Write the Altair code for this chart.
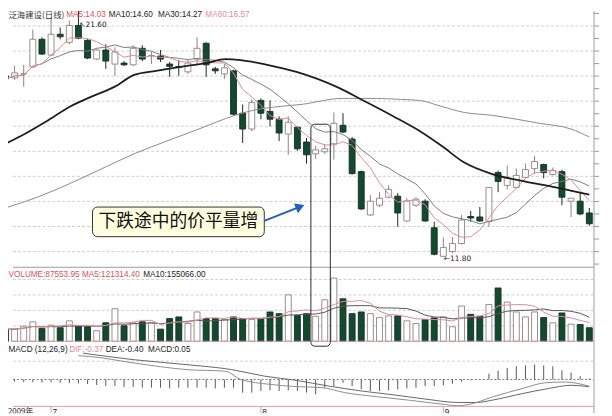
import altair as alt
import pandas as pd

# ---------------- data ----------------
opens = [19.01, 18.93, 19.09, 19.37, 20.47, 19.84, 20.67, 20.35, 21.02, 20.43,
         19.68, 20.04, 19.48, 19.52, 19.45, 20.11, 19.82, 19.80, 19.48, 19.38,
         19.17, 19.68, 20.31, 19.29, 19.09, 19.21, 17.52, 16.89, 18.03, 17.59,
         17.28, 16.69, 16.96, 16.37, 15.90, 15.98, 16.30, 17.04, 16.49, 15.19,
         13.46, 13.85, 14.17, 14.21, 13.22, 13.85, 14.01, 12.95, 11.81, 12.00,
         12.32, 13.40, 13.38, 13.19, 15.15, 14.64, 14.56, 14.96, 15.31, 15.47,
         15.07, 15.19, 14.01, 14.01, 13.54]
highs = [19.17, 19.41, 19.45, 20.86, 20.55, 21.34, 20.94, 21.22, 21.60, 20.47,
         20.08, 20.27, 20.15, 19.60, 20.23, 20.23, 19.96, 20.04, 19.56, 19.64,
         19.64, 20.55, 20.35, 19.37, 19.48, 19.25, 17.87, 18.07, 18.11, 18.03,
         17.40, 17.40, 17.00, 16.53, 16.22, 16.30, 17.55, 17.52, 16.57, 15.23,
         14.25, 14.37, 14.64, 14.33, 14.13, 14.17, 14.09, 13.19, 12.56, 12.59,
         13.46, 13.62, 13.78, 14.56, 15.23, 15.43, 15.31, 15.51, 15.82, 15.51,
         15.35, 15.27, 14.13, 14.37, 13.74]
lows = [18.78, 18.85, 18.58, 19.33, 19.84, 19.80, 20.47, 20.27, 20.47, 19.68,
        19.64, 19.29, 19.01, 19.41, 19.41, 19.60, 19.48, 19.56, 18.97, 19.01,
        19.09, 19.48, 18.97, 19.09, 18.89, 17.44, 16.33, 16.81, 17.28, 17.00,
        16.41, 15.86, 16.02, 15.51, 15.70, 15.90, 15.67, 16.73, 15.07, 13.66,
        13.42, 13.78, 14.13, 12.99, 13.19, 13.78, 13.19, 11.85, 11.80, 11.93,
        12.28, 13.19, 13.19, 12.99, 14.37, 14.48, 14.52, 14.92, 15.11, 14.92,
        15.04, 13.85, 13.38, 13.46, 13.03]
closes = [18.89, 19.13, 19.09, 20.47, 19.88, 20.67, 20.57, 21.02, 20.51, 19.72,
          20.04, 19.60, 19.96, 19.45, 20.11, 19.68, 19.82, 19.68, 19.39, 19.36,
          19.52, 20.11, 19.45, 19.21, 19.33, 17.48, 16.89, 17.95, 17.52, 17.28,
          16.73, 17.16, 16.10, 15.86, 16.06, 16.10, 17.12, 16.77, 15.11, 13.70,
          14.01, 14.13, 14.48, 13.54, 14.01, 14.09, 13.22, 11.89, 12.16, 12.32,
          13.26, 13.34, 13.22, 14.56, 14.80, 14.96, 15.04, 15.27, 15.59, 15.15,
          15.23, 14.17, 14.13, 13.50, 13.11]
volumes = [78600, 78600, 97800, 125900, 83100, 104200, 87500, 132300, 100300, 93900,
           68400, 119500, 210900, 100300, 119500, 125900, 119500, 78600, 147000, 157800,
           115000, 189800, 147000, 147000, 140600, 157800, 147000, 140600, 147000, 189800,
           178900, 300300, 166100, 178900, 161700, 268400, 409000, 274800, 178900, 189800,
           178900, 153400, 164200, 164200, 132300, 115000, 140600, 151400, 157800, 93900,
           228100, 174400, 161700, 238300, 345100, 253700, 189800, 157800, 189800, 153400,
           119500, 183400, 110500, 108600, 87553.95]
macd_hist = [-0.12, -0.12, -0.14, -0.14, -0.16, -0.16, -0.18, -0.20, -0.22, -0.25,
             -0.30, -0.36, -0.36, -0.41, -0.41, -0.45, -0.45, -0.45, -0.49, -0.45,
             -0.45, -0.45, -0.45, -0.49, -0.45, -0.45, -0.72, -0.72, -0.63, -0.59,
             -0.63, -0.59, -0.63, -0.72, -0.81, -0.45, -0.36, -0.18, -0.36, -0.54,
             -0.63, -0.63, -0.59, -0.54, -0.49, -0.45, -0.36, -0.36, -0.32, -0.23,
             -0.13, -0.04, 0.02, 0.31, 0.49, 0.63, 0.72, 0.77, 0.81, 0.77,
             0.72, 0.50, 0.38, 0.18, 0.05]

ma30_t = [0, 2.1, 4.5, 7.1, 9.5, 12, 14.1, 16.5, 19.9, 22, 24.1, 25.8, 28.7, 31.9,
          36.5, 39, 42.5, 45.4, 47.8, 50.3, 53.2, 56.9, 60.3, 64]
ma30_v = [16.30, 16.69, 17.20, 17.79, 18.19, 18.58, 19.05, 19.21, 19.41, 19.52, 19.68,
          19.64, 19.45, 19.17, 18.54, 18.07, 17.40, 16.81, 16.22, 15.55, 15.11, 14.80,
          14.56, 14.27]
ma60_t = [0, 3.5, 7.1, 10.6, 14.1, 17.7, 21.2, 25.2, 27.6, 30.1, 32.4, 36.9, 40.7,
          43.3, 45.4, 47.8, 50.3, 53.2, 58.5, 62, 64]
ma60_v = [13.74, 14.17, 14.72, 15.31, 15.90, 16.41, 16.89, 17.44, 17.67, 17.79, 17.87,
          18.11, 18.11, 18.07, 18.03, 17.79, 17.55, 17.44, 17.12, 16.89, 16.57]

dif_t = [8, 9.2, 14.1, 19.9, 24.1, 25.8, 29, 31.9, 34.7, 37.2, 40.8, 44.3, 47.8,
         49.6, 51.0, 53.2, 56.7, 59.2, 61.3, 64]
dif_v = [1.30, 1.26, 0.90, 0.54, 0.45, 0.0, -0.27, -0.39, -0.45, -0.72, -0.95, -1.14,
         -1.35, -1.44, -1.35, -0.99, -0.49, -0.18, -0.14, -0.37]
dea_t = [8.5, 14.1, 19.9, 24.8, 28.4, 31.9, 35.4, 39.0, 42.5, 46.1, 49.6, 51.7, 53.2,
         56.7, 59.5, 62.0, 64]
dea_v = [1.44, 1.08, 0.81, 0.54, 0.18, -0.05, -0.36, -0.63, -0.84, -1.08, -1.26, -1.26,
         -1.15, -0.77, -0.50, -0.32, -0.40]

price_grid = [12, 13, 14, 15, 16, 17, 18, 19, 20, 21]
vol_grid = [100000, 200000, 300000, 400000]
macd_grid = [1.0]
month_idx = [5, 28, 48]
month_lbl = ["7", "8", "9"]

title_txt = ["泛海建设(日线)", "MA5:14.03", "MA10:14.60", "MA30:14.27", "MA60:16.57"]
vol_txt = ["VOLUME:87553.95", "MA5:121314.40", "MA10:155066.00"]
macd_txt = ["MACD (12,26,9)", "DIF:-0.37", "DEA:-0.40", "MACD:0.05"]
note_txt = "下跌途中的价平量增"
hi_txt = "↖21.60"
lo_txt = "←11.80"

# ---------------- frames ----------------
candles = pd.DataFrame({"t": list(range(len(closes))), "open": opens, "high": highs,
                        "low": lows, "close": closes, "vol": volumes, "hist": macd_hist})
candles["up"] = candles["close"] >= candles["open"]
up_df = candles[candles["up"]]
dn_df = candles[~candles["up"]]
ma30 = pd.DataFrame({"t": ma30_t, "v": ma30_v})
ma60 = pd.DataFrame({"t": ma60_t, "v": ma60_v})
dif = pd.DataFrame({"t": dif_t, "v": dif_v})
dea = pd.DataFrame({"t": dea_t, "v": dea_v})
ONE = pd.DataFrame({"k": [0]})

# ---------------- scales / styles ----------------
XS = alt.Scale(domain=[0.819, 65.07], nice=False, zero=False)
PS = alt.Scale(domain=[5.547, 21.610], nice=False, zero=False)
VS = alt.Scale(domain=[-466470, 2140650], nice=False, zero=False)
MS = alt.Scale(domain=[-1.854, 20.2], nice=False, zero=False)
RIGHT_T = 64.51

DOWN_FILL = "#0f4b2e"
DOWN_LINE = "#1b2a22"
UP_LINE = "#8e7f82"
RED = "#e0505e"
PINK = "#e58a98"
GRID = "#cfcfcf"
FONT = "Liberation Sans"


def X(f="t"):
    return alt.X(f"{f}:Q", scale=XS, axis=None)


def Y(f, s):
    return alt.Y(f"{f}:Q", scale=s, axis=None)


def hrule(values, s, color, dash=None, width=1):
    df = pd.DataFrame({"g": values})
    kw = dict(color=color, strokeWidth=width, clip=True)
    if dash:
        kw["strokeDash"] = dash
    return alt.Chart(df).mark_rule(**kw).encode(
        y=Y("g", s), x=alt.XDatum(0.819, scale=XS, axis=None), x2=alt.X2Datum(RIGHT_T))


def label(text, px, py, color, size=8.3, font=FONT):
    return alt.Chart(ONE).mark_text(align="left", baseline="middle", fontSize=size,
                                    font=font, color=color, clip=True).encode(
        x=alt.value(px), y=alt.value(py), text=alt.value(text))


layers = []
# grids
layers.append(hrule(price_grid, PS, GRID, [3, 2]))
layers.append(hrule(vol_grid, VS, GRID, [3, 2]))
layers.append(hrule(macd_grid, MS, GRID, [3, 2]))
layers.append(hrule([0], MS, "#777", [2, 2]))

# candles
for df, stroke, fill in [(up_df, UP_LINE, "white"), (dn_df, DOWN_LINE, DOWN_FILL)]:
    layers.append(alt.Chart(df).mark_rule(color=stroke, strokeWidth=1, clip=True).encode(
        x=X(), y=Y("low", PS), y2="high:Q"))
    layers.append(alt.Chart(df).mark_bar(size=6, fill=fill, stroke=stroke, strokeWidth=0.9,
                                         clip=True).encode(
        x=X(), y=Y("open", PS), y2="close:Q"))

# moving averages
srt = [alt.SortField("t", order="ascending")]
layers.append(alt.Chart(ma60).mark_line(color="#8a8a8a", strokeWidth=1, clip=True,
                                        interpolate="monotone").encode(x=X(), y=Y("v", PS)))
layers.append(alt.Chart(candles).transform_window(ma10="mean(close)", frame=[-9, 0], sort=srt)
              .mark_line(color="#7d7d7d", strokeWidth=1, clip=True).encode(x=X(), y=Y("ma10", PS)))
layers.append(alt.Chart(candles).transform_window(ma5="mean(close)", frame=[-4, 0], sort=srt)
              .mark_line(color="#d98d98", strokeWidth=1, clip=True).encode(x=X(), y=Y("ma5", PS)))
layers.append(alt.Chart(ma30).mark_line(color="#1e1e1e", strokeWidth=1.8, clip=True,
                                        interpolate="monotone").encode(x=X(), y=Y("v", PS)))

# volume
for df, stroke, fill in [(up_df, UP_LINE, "white"), (dn_df, DOWN_LINE, DOWN_FILL)]:
    layers.append(alt.Chart(df).mark_bar(size=6, fill=fill, stroke=stroke, strokeWidth=0.9,
                                         clip=True).encode(
        x=X(), y=Y("vol", VS), y2=alt.Y2Datum(0)))
layers.append(alt.Chart(candles).transform_window(v10="mean(vol)", frame=[-9, 0], sort=srt)
              .mark_line(color="#555", strokeWidth=1, clip=True).encode(x=X(), y=Y("v10", VS)))
layers.append(alt.Chart(candles).transform_window(v5="mean(vol)", frame=[-4, 0], sort=srt)
              .mark_line(color="#d98d98", strokeWidth=1, clip=True).encode(x=X(), y=Y("v5", VS)))

# macd
layers.append(alt.Chart(candles).mark_rule(color="#555", strokeWidth=1, clip=True).encode(
    x=X(), y=Y("hist", MS), y2=alt.Y2Datum(0)))
layers.append(alt.Chart(dea).mark_line(color="#666", strokeWidth=1, clip=True,
                                       interpolate="monotone").encode(x=X(), y=Y("v", MS)))
layers.append(alt.Chart(dif).mark_line(color="#8c8c8c", strokeWidth=1, clip=True,
                                       interpolate="monotone").encode(x=X(), y=Y("v", MS)))

# panel separators and right border
layers.append(hrule([479250], VS, "#9a9a9a"))
layers.append(hrule([0], VS, "#c9a3a9"))
layers.append(hrule([-1.476], MS, "#e39aa5"))
layers.append(alt.Chart(ONE).mark_rule(color="#a0a0a0", strokeWidth=1, clip=True).encode(
    x=alt.XDatum(RIGHT_T, scale=XS, axis=None), y=alt.YDatum(21.61, scale=PS, axis=None),
    y2=alt.Y2Datum(5.547)))
tick_df = pd.DataFrame({"g": [x / 2 for x in range(23, 44)]})
layers.append(alt.Chart(tick_df).mark_rule(color="#999", clip=True).encode(
    y=Y("g", PS), x=alt.XDatum(RIGHT_T, scale=XS, axis=None), x2=alt.X2Datum(65.07)))

# month ticks / labels
mdf = pd.DataFrame({"t": month_idx, "lbl": month_lbl})
layers.append(alt.Chart(mdf).mark_rule(color="#e39aa5", clip=True).encode(
    x=X(), y=alt.YDatum(-1.476, scale=MS, axis=None), y2=alt.Y2Datum(-1.854)))
layers.append(alt.Chart(mdf).mark_text(align="left", baseline="top", dx=1.5, fontSize=8.3,
                                       font=FONT, color="#222", clip=True).encode(
    x=X(), y=alt.value(402.5), text="lbl:N"))
layers.append(label("2009年", 0, 406.5, "#222", 8, "Noto Sans CJK SC"))

# headers
layers.append(label(title_txt[0], 0.5, 4.5, "#333", 8.5, "Noto Sans CJK SC"))
layers.append(label(title_txt[1], 59, 4.5, RED))
layers.append(label(title_txt[2], 102, 4.5, "#222"))
layers.append(label(title_txt[3], 152, 4.5, "#222"))
layers.append(label(title_txt[4], 200, 4.5, PINK))
layers.append(label(vol_txt[0], 0.5, 267.5, RED))
layers.append(label(vol_txt[1], 75, 267.5, RED))
layers.append(label(vol_txt[2], 137, 267.5, "#222"))
layers.append(label(macd_txt[0], 0.5, 344, "#222"))
layers.append(label(macd_txt[1], 62, 344, PINK))
layers.append(label(macd_txt[2], 99, 344, "#222"))
layers.append(label(macd_txt[3], 142, 344, "#222"))

# extreme labels
ext = pd.DataFrame({"t": [8.1, 48.05], "p": [21.03, 11.69], "lbl": [hi_txt, lo_txt]})
layers.append(alt.Chart(ext).mark_text(align="left", baseline="middle", fontSize=7.5,
                                       font="DejaVu Sans", color="#222", clip=True).encode(
    x=X(), y=Y("p", PS), text="lbl:N"))

# highlight box around the flat-price / rising-volume days
box = pd.DataFrame({"t1": [33.48], "t2": [35.61], "p1": [17.08], "p2": [8.224]})
layers.append(alt.Chart(box).mark_rect(fill=None, fillOpacity=0, stroke="#2a2a2a",
                                       strokeWidth=1, cornerRadius=4, clip=True).encode(
    x=X("t1"), x2="t2:Q", y=Y("p1", PS), y2="p2:Q"))

# callout
call = pd.DataFrame({"t1": [9.54], "t2": [28.37], "p1": [13.776], "p2": [12.594],
                     "tc": [18.96], "pc": [13.185]})
layers.append(alt.Chart(call).mark_rect(fill="#ffffdf", stroke="#333", strokeWidth=1,
                                        cornerRadius=5, clip=True).encode(
    x=X("t1"), x2="t2:Q", y=Y("p1", PS), y2="p2:Q"))
layers.append(alt.Chart(call).mark_text(align="center", baseline="middle", fontSize=18,
                                        font="Noto Sans CJK SC", color="#111", clip=True).encode(
    x=X("tc"), y=Y("pc", PS), text=alt.value(note_txt)))
arrow = pd.DataFrame({"t1": [28.37], "t2": [31.9], "p1": [13.224], "p2": [13.73]})
layers.append(alt.Chart(arrow).mark_rule(color="#1f5fbf", strokeWidth=2, clip=True).encode(
    x=X("t1"), x2="t2:Q", y=Y("p1", PS), y2="p2:Q"))
head = pd.DataFrame({"t": [32.3], "p": [13.79]})
layers.append(alt.Chart(head).mark_point(shape="triangle-right", filled=True, size=110,
                                         angle=338, color="#1f5fbf", opacity=1, clip=True).encode(
    x=X(), y=Y("p", PS)))

chart = alt.layer(*layers).resolve_scale(y="independent").properties(
    width=604, height=408, padding=0,
    autosize=alt.AutoSizeParams(type="fit", contains="padding"),
).configure_view(stroke=None)

chart.save("out.html", embed_options={"renderer": "svg", "actions": False})
